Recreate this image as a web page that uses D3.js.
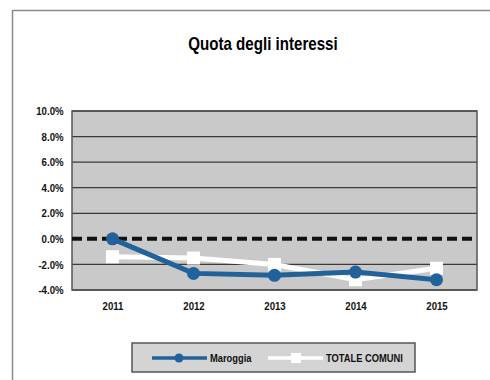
<!DOCTYPE html>
<html>
<head>
<meta charset="utf-8">
<script src="https://cdn.jsdelivr.net/npm/d3@7"></script>
<style>
  body { margin: 0; background: #fff; }
  svg text { font-family: "Liberation Sans", Arial, sans-serif; font-weight: bold; }
</style>
</head>
<body>
<div id="chart"></div>
<script>
const years    = ["2011", "2012", "2013", "2014", "2015"];
const maroggia = [0.0, -2.7, -2.85, -2.6, -3.2];
const totale   = [-1.4, -1.5, -2.0, -3.2, -2.3];
const yTicks   = [10, 8, 6, 4, 2, 0, -2, -4];
const seriesNames = ["Maroggia", "TOTALE COMUNI"];

const width = 490, height = 380,
    plot = { left: 72, right: 477, top: 111, bottom: 290 },
    blue = "#22629a",
    narrow = "scale(0.84,1)"; // the original font is a narrow face

const svg = d3.select("#chart").append("svg")
    .attr("width", width)
    .attr("height", height);

// outer chart frame
svg.append("rect")
    .attr("x", 12.5).attr("y", 10.5)
    .attr("width", 500).attr("height", 400)
    .attr("fill", "#fff")
    .attr("stroke", "#8a8a8a")
    .attr("stroke-width", 1.5);

svg.append("text")
    .attr("transform", "translate(263,50) " + narrow)
    .attr("text-anchor", "middle")
    .style("font-size", "18px")
    .text("Quota degli interessi");

const x = d3.scalePoint()
    .domain(years)
    .range([plot.left, plot.right])
    .padding(0.5);

const y = d3.scaleLinear()
    .domain([-4, 10])
    .range([plot.bottom, plot.top]);

// plot area
svg.append("rect")
    .attr("x", plot.left).attr("y", plot.top)
    .attr("width", plot.right - plot.left)
    .attr("height", plot.bottom - plot.top)
    .attr("fill", "#c9c9c9");

// gridlines
svg.append("g")
    .selectAll("line")
    .data(yTicks.filter(d => d !== 0))
    .join("line")
    .attr("x1", plot.left).attr("x2", plot.right)
    .attr("y1", d => y(d)).attr("y2", d => y(d))
    .attr("stroke", "#3a3a3a")
    .attr("stroke-width", 1.3);

// plot border
svg.append("rect")
    .attr("x", plot.left).attr("y", plot.top)
    .attr("width", plot.right - plot.left)
    .attr("height", plot.bottom - plot.top)
    .attr("fill", "none")
    .attr("stroke", "#555")
    .attr("stroke-width", 1.5);

// y axis
const yAxis = svg.append("g")
    .attr("transform", `translate(${plot.left},0)`)
    .call(d3.axisLeft(y).tickValues(yTicks).tickSize(0).tickPadding(10)
        .tickFormat(d => d.toFixed(1) + "%"));
yAxis.select(".domain").remove();
yAxis.selectAll("text")
    .attr("transform", narrow)
    .style("font-size", "11.5px")
    .attr("fill", "#111");

// x axis labels
const xAxis = svg.append("g")
    .attr("transform", `translate(0,${plot.bottom})`)
    .call(d3.axisBottom(x).tickSize(0).tickPadding(12));
xAxis.select(".domain").remove();
xAxis.selectAll("text")
    .attr("transform", narrow)
    .style("font-size", "11.5px")
    .attr("fill", "#111");

// zero dashed line
svg.append("line")
    .attr("x1", plot.left).attr("x2", plot.right)
    .attr("y1", y(0)).attr("y2", y(0))
    .attr("stroke", "#111")
    .attr("stroke-width", 4)
    .attr("stroke-dasharray", "10,5");

const line = d3.line()
    .x((d, i) => x(years[i]))
    .y(d => y(d));

// TOTALE COMUNI (white)
svg.append("path")
    .datum(totale)
    .attr("d", line)
    .attr("fill", "none")
    .attr("stroke", "#fff")
    .attr("stroke-width", 5);

svg.append("g")
    .selectAll("rect")
    .data(totale)
    .join("rect")
    .attr("x", (d, i) => x(years[i]) - 6.5)
    .attr("y", d => y(d) - 6.5)
    .attr("width", 13).attr("height", 13)
    .attr("fill", "#fff");

// Maroggia (blue)
svg.append("path")
    .datum(maroggia)
    .attr("d", line)
    .attr("fill", "none")
    .attr("stroke", blue)
    .attr("stroke-width", 5);

svg.append("g")
    .selectAll("circle")
    .data(maroggia)
    .join("circle")
    .attr("cx", (d, i) => x(years[i]))
    .attr("cy", d => y(d))
    .attr("r", 6.5)
    .attr("fill", blue);

// legend
const legend = svg.append("g");
legend.append("rect")
    .attr("x", 132).attr("y", 343)
    .attr("width", 283).attr("height", 29)
    .attr("fill", "#d4d4d4")
    .attr("stroke", "#555")
    .attr("stroke-width", 1.5);

const legendItems = [
    { name: seriesNames[0], color: blue, x0: 152, marker: "circle" },
    { name: seriesNames[1], color: "#fff", x0: 268, marker: "rect" }
];
legendItems.forEach(it => {
    legend.append("line")
        .attr("x1", it.x0).attr("x2", it.x0 + 55)
        .attr("y1", 358).attr("y2", 358)
        .attr("stroke", it.color)
        .attr("stroke-width", 3.5);
    if (it.marker === "circle") {
        legend.append("circle")
            .attr("cx", it.x0 + 27).attr("cy", 358).attr("r", 4.5)
            .attr("fill", it.color);
    } else {
        legend.append("rect")
            .attr("x", it.x0 + 23).attr("y", 353)
            .attr("width", 10).attr("height", 10)
            .attr("fill", it.color);
    }
    legend.append("text")
        .attr("transform", `translate(${it.x0 + 58},362) scale(0.85,1)`)
        .style("font-size", "11px")
        .attr("fill", "#111")
        .text(it.name);
});
</script>
</body>
</html>
